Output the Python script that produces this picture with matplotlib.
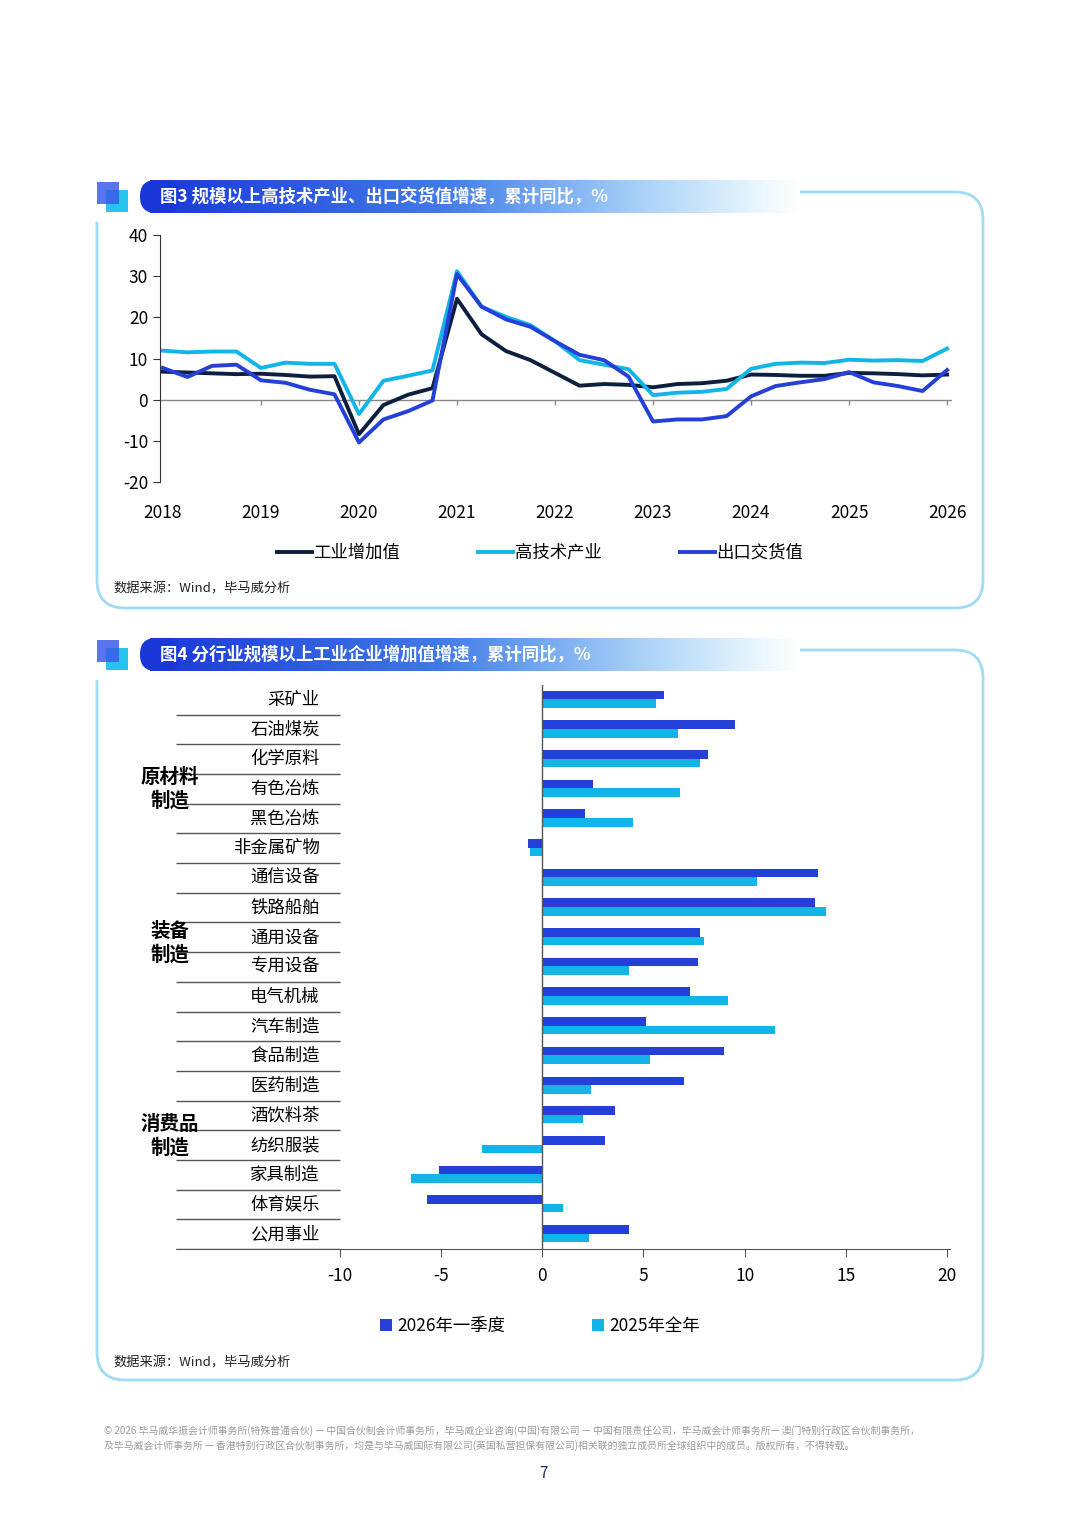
import numpy as np
import matplotlib
matplotlib.use('Agg')
import matplotlib.pyplot as plt
from matplotlib.patches import FancyBboxPatch, Rectangle

plt.rcParams['font.family'] = ['Noto Sans CJK SC', 'DejaVu Sans']
plt.rcParams['axes.unicode_minus'] = False

# ---- data: chart 3 (quarterly, 2018Q1 .. 2026Q1) ----
years = [2018, 2019, 2020, 2021, 2022, 2023, 2024, 2025, 2026]
industry = [6.8, 6.6, 6.4, 6.2, 6.3, 6.0, 5.6, 5.7, -8.4, -1.3, 1.2, 2.8,
            24.5, 15.9, 11.8, 9.6, 6.5, 3.4, 3.8, 3.6, 3.0, 3.8, 4.0, 4.6,
            6.1, 6.0, 5.8, 5.8, 6.5, 6.4, 6.2, 5.9, 6.1]
hightech = [11.9, 11.5, 11.7, 11.7, 7.7, 9.0, 8.7, 8.7, -3.5, 4.6, 5.8, 7.1,
            31.2, 22.6, 20.1, 18.1, 14.2, 9.6, 8.5, 7.4, 1.1, 1.7, 1.9, 2.6,
            7.5, 8.7, 9.0, 8.9, 9.7, 9.5, 9.6, 9.4, 12.4]
export = [7.7, 5.5, 8.2, 8.5, 4.7, 4.1, 2.4, 1.3, -10.4, -4.8, -2.8, -0.2,
          30.5, 22.6, 19.5, 17.7, 14.2, 10.9, 9.6, 5.6, -5.3, -4.8, -4.8, -4.0,
          0.8, 3.3, 4.2, 5.0, 6.7, 4.2, 3.3, 2.1, 7.2]
line_names = ['工业增加值', '高技术产业', '出口交货值']

# ---- data: chart 4 ----
sectors = ['采矿业', '石油煤炭', '化学原料', '有色冶炼', '黑色冶炼', '非金属矿物',
           '通信设备', '铁路船舶', '通用设备', '专用设备', '电气机械', '汽车制造',
           '食品制造', '医药制造', '酒饮料茶', '纺织服装', '家具制造', '体育娱乐', '公用事业']
q1_2026 = [6.0, 9.5, 8.2, 2.5, 2.1, -0.7, 13.6, 13.5, 7.8, 7.7, 7.3, 5.1,
           9.0, 7.0, 3.6, 3.1, -5.1, -5.7, 4.3]
y2025 = [5.6, 6.7, 7.8, 6.8, 4.5, -0.6, 10.6, 14.0, 8.0, 4.3, 9.2, 11.5,
         5.3, 2.4, 2.0, -3.0, -6.5, 1.0, 2.3]
group_names = ['原材料\n制造', '装备\n制造', '消费品\n制造']
group_rows = [3.0, 8.2, 14.7]
bar_names = ['2026年一季度', '2025年全年']

DARK = '#0c1f3f'
CYAN = '#11b5e8'
BLUE = '#2440d8'
W, H = 1080, 1516

fig = plt.figure(figsize=(W / 100, H / 100), dpi=100)
bg = fig.add_axes([0, 0, 1, 1], zorder=0)
bg.set_xlim(0, W)
bg.set_ylim(H, 0)
bg.axis('off')


def ax_rect(x0, y0, x1, y1):
    return [x0 / W, 1 - y1 / H, (x1 - x0) / W, (y1 - y0) / H]


def panel(top, bottom, title):
    box = FancyBboxPatch((97, top), 886, bottom - top, boxstyle='round,pad=0,rounding_size=28',
                         fc='none', ec='#9fdcf3', lw=2)
    bg.add_patch(box)
    bg.add_patch(Rectangle((90, top - 15), 710, 45, fc='white', ec='none'))
    # gradient header
    grad = np.zeros((1, 300, 4))
    c0 = np.array([0.10, 0.22, 0.85])
    c1 = np.array([0.45, 0.80, 0.98])
    t = np.linspace(0, 1, 300)
    grad[0, :, :3] = c0[None, :] * (1 - t[:, None]) + c1[None, :] * t[:, None]
    grad[0, :, 3] = np.clip(1.25 - t ** 2 * 1.25, 0, 1)
    bg.imshow(grad, extent=[150, 800, top + 21, top - 12], aspect='auto', zorder=2)
    bg.add_patch(FancyBboxPatch((140, top - 12), 40, 33, boxstyle='round,pad=0,rounding_size=16',
                                fc='#1a38d9', ec='none', zorder=2))
    bg.add_patch(Rectangle((97, top - 10), 22, 22, fc='#3b5de8', ec='none', zorder=3, alpha=0.85))
    bg.add_patch(Rectangle((106, top - 2), 22, 22, fc='#27c4f0', ec='none', zorder=2))
    bg.text(160, top + 5, title, color='white', fontsize=12.5, fontweight='bold', va='center', zorder=4)


panel(192, 608, '图3 规模以上高技术产业、出口交货值增速，累计同比，%')
panel(650, 1380, '图4 分行业规模以上工业企业增加值增速，累计同比，%')

# ---- chart 3 ----
ax = fig.add_axes(ax_rect(160, 235, 952, 482), zorder=1)
xq = np.array([years[0] + i / 4 for i in range(len(industry))])
ax.plot(xq, industry, color=DARK, lw=2.8, label=line_names[0])
ax.plot(xq, hightech, color=CYAN, lw=2.8, label=line_names[1])
ax.plot(xq, export, color=BLUE, lw=2.8, label=line_names[2])
ax.set_xlim(2017.97, 2026.05)
ax.set_ylim(-20, 40)
ax.set_yticks(range(-20, 41, 10))
ax.axhline(0, color='#888888', lw=1, zorder=0)
ax.vlines(years[1:], -1.2, 0, color='#888888', lw=1)
ax.set_xticks(years)
ax.tick_params(axis='x', length=0, pad=16, labelsize=12.5)
ax.tick_params(axis='y', length=5, labelsize=12.5, color='#333333')
ax.spines[['top', 'right', 'bottom']].set_visible(False)
ax.spines['left'].set_color('#333333')
ax.patch.set_alpha(0)
fig.legend(*ax.get_legend_handles_labels(), loc='center', bbox_to_anchor=(0.5, 1 - 553 / H),
           ncol=3, frameon=False, fontsize=12.5, handlelength=2, columnspacing=4.5,
           handletextpad=0.1)
bg.text(113, 589, '数据来源：Wind，毕马威分析', fontsize=9.5, color='#222222', va='center')

# ---- chart 4 ----
bx = fig.add_axes(ax_rect(176, 685, 950, 1249), zorder=1)
n = len(sectors)
yy = np.arange(n)
bh = 0.29
bx.barh(yy - bh / 2 - 0.02, q1_2026, height=bh, color=BLUE, label=bar_names[0])
bx.barh(yy + bh / 2 - 0.02, y2025, height=bh, color=CYAN, label=bar_names[1])
unit = (947 - 340) / 30
xmin = -10 - (340 - 176) / unit
bx.set_xlim(xmin, xmin + (950 - 176) / unit)
bx.set_ylim(n - 0.5, -0.5)
bx.axvline(0, color='#555555', lw=1)
bx.hlines(np.arange(n) + 0.5, xmin, -10, color='#555555', lw=1)
for i, s in enumerate(sectors):
    bx.text(-11, i, s, ha='right', va='center', fontsize=12.5)
for name, r in zip(group_names, group_rows):
    bx.text(xmin - 0.3, r, name, ha='center', va='center', fontsize=14,
            fontweight='bold', linespacing=1.25)
bx.set_yticks([])
bx.set_xticks(range(-10, 21, 5))
bx.tick_params(axis='x', length=6, labelsize=12.5, pad=7, color='#555555')
bx.spines[['top', 'right', 'left']].set_visible(False)
bx.spines['bottom'].set_color('#555555')
bx.patch.set_alpha(0)
fig.legend(*bx.get_legend_handles_labels(), loc='center', bbox_to_anchor=(0.5, 1 - 1326 / H),
           ncol=2, frameon=False, fontsize=12.5, handlelength=0.7, handleheight=0.7,
           columnspacing=5, handletextpad=0.3)
bg.text(113, 1363, '数据来源：Wind，毕马威分析', fontsize=9.5, color='#222222', va='center')

# ---- footer ----
bg.text(104, 1438, '© 2026 毕马威华振会计师事务所(特殊普通合伙) — 中国合伙制会计师事务所，毕马威企业咨询(中国)有限公司 — 中国有限责任公司，毕马威会计师事务所— 澳门特别行政区合伙制事务所，\n'
        '及毕马威会计师事务所 — 香港特别行政区合伙制事务所，均是与毕马威国际有限公司(英国私营担保有限公司)相关联的独立成员所全球组织中的成员。版权所有，不得转载。',
        fontsize=7.1, color='#9a9a9a', va='center', linespacing=1.4)
bg.text(543, 1474, '7', fontsize=11, color='#1a2e6e', ha='center', va='center')

fig.savefig('out.png', dpi=100)
